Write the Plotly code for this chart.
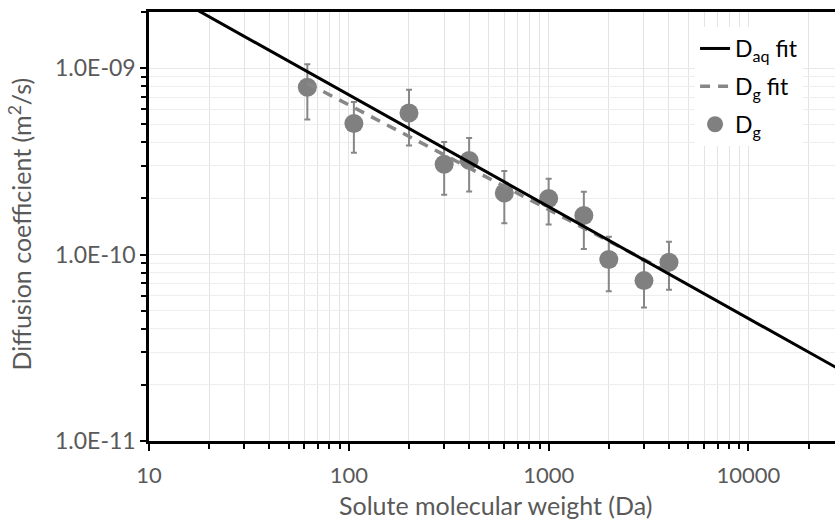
import plotly.graph_objects as go
import numpy as np

# ---- data ----
mw = [62, 106, 200, 300, 400, 600, 1000, 1500, 2000, 3000, 4000]
dg = [7.9e-10, 5.05e-10, 5.75e-10, 3.05e-10, 3.2e-10, 2.14e-10, 2.0e-10, 1.62e-10, 9.4e-11, 7.25e-11, 9.1e-11]
dg_err = [2.6e-10, 1.53e-10, 1.9e-10, 0.96e-10, 1.02e-10, 0.67e-10, 0.55e-10, 0.55e-10, 3.05e-11, 2.05e-11, 2.62e-11]

daq_fit_x = [10, 30000]
daq_fit_y = [2.86e-9, 2.35e-11]
dg_fit_x = [62, 4000]
dg_fit_y = [8.3e-10, 8.0e-11]

x_major = [10, 100, 1000, 10000]
x_major_labels = ["10", "100", "1000", "10000"]
y_major = [1e-11, 1e-10, 1e-9]
y_major_labels = ["1.0E-11", "1.0E-10", "1.0E-09"]

FONT = "Lato"
TXT = "#595959"
GRAY = "#878787"

x_minor = [d * m for d in [10, 100, 1000, 10000] for m in range(2, 10)]
y_minor = [d * m for d in [1e-11, 1e-10, 1e-9] for m in range(2, 10)]

fig = go.Figure()

# error bars (no legend)
fig.add_trace(go.Scatter(
    x=mw, y=dg, mode="markers",
    marker=dict(size=1, color="rgba(0,0,0,0)"),
    error_y=dict(type="data", array=dg_err, symmetric=True, color=GRAY, thickness=2, width=3),
    showlegend=False, hoverinfo="skip"))

fig.add_trace(go.Scatter(
    x=mw, y=dg, mode="markers", name="D<sub>g</sub>", legendgroup="c",
    marker=dict(size=19, color="#808080"), legendrank=3))

fig.add_trace(go.Scatter(
    x=dg_fit_x, y=dg_fit_y, mode="lines", name="D<sub>g</sub> fit", legendgroup="b",
    line=dict(color=GRAY, width=3.5, dash="10px,8px"), legendrank=2))

fig.add_trace(go.Scatter(
    x=daq_fit_x, y=daq_fit_y, mode="lines", name="D<sub>aq</sub> fit", legendgroup="a",
    line=dict(color="black", width=3), legendrank=1))

fig.update_layout(
    width=835, height=519,
    margin=dict(l=149, r=0, t=12, b=78),
    paper_bgcolor="white", plot_bgcolor="white",
    font=dict(family=FONT, size=22, color=TXT),
    showlegend=True,
    legend=dict(x=0.796, xanchor="left", y=0.965, yanchor="top",
                bgcolor="white", font=dict(size=23, color="black", family=FONT),
                tracegroupgap=5, itemwidth=30),
    xaxis=dict(
        type="log", range=[1, 4.433],
        tickvals=x_major, ticktext=x_major_labels,
        ticks="outside", ticklen=7, tickwidth=2, tickcolor="black",
        ticklabelstandoff=6,
        minor=dict(tickvals=x_minor, ticks="outside", ticklen=5, tickwidth=2, tickcolor="black",
                   showgrid=True, gridcolor="#e3e3e3", gridwidth=1),
        showline=True, linecolor="black", linewidth=2.5, mirror=True,
        showgrid=True, gridcolor="#e3e3e3", gridwidth=1,
        zeroline=False,
        tickfont=dict(size=22, color=TXT),
    ),
    yaxis=dict(
        type="log", range=[-11, np.log10(2e-9)],
        tickvals=y_major, ticktext=y_major_labels,
        ticks="outside", ticklen=6, tickwidth=2, tickcolor="black",
        ticklabelstandoff=0,
        minor=dict(tickvals=y_minor, ticks="outside", ticklen=5, tickwidth=2, tickcolor="black",
                   showgrid=True, gridcolor="#eeeeee", gridwidth=1),
        showline=True, linecolor="black", linewidth=2.5, mirror=False,
        showgrid=True, gridcolor="#e8e8e8", gridwidth=1,
        zeroline=False,
        tickfont=dict(size=23, color=TXT),
    ),
    annotations=[
        dict(text="Solute molecular weight (Da)", xref="paper", yref="paper",
             x=0.5, y=0, xanchor="center", yanchor="middle", yshift=-64, xshift=3,
             showarrow=False, font=dict(size=25, color=TXT, family=FONT)),
        dict(text="Diffusion coefficient (m<sup>2</sup>/s)", xref="paper", yref="paper",
             x=0, y=0.5, xanchor="center", yanchor="middle", xshift=-129, yshift=2,
             textangle=-90, showarrow=False, font=dict(size=25, color=TXT, family=FONT)),
    ],
)

fig.write_html("out.html", config={"displayModeBar": False},
               post_script="document.body.style.margin='0';document.body.style.overflow='hidden';")
